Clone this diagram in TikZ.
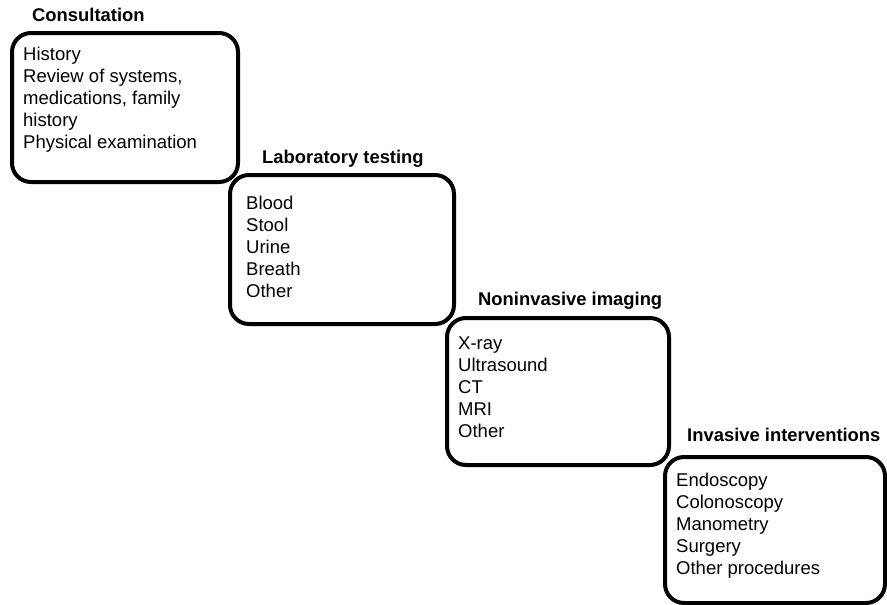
\documentclass[tikz,border=0pt]{standalone}
\usepackage{fontspec}
\setmainfont{Liberation Sans}
\usetikzlibrary{positioning}

\begin{document}
\begin{tikzpicture}[
    x=1pt, y=-1pt,
    stage/.style={draw, line width=4pt, rounded corners=19pt, fill=white,
        anchor=north west, inner sep=0pt},
    items/.style={align=left, inner sep=0pt, font=\fontsize{18.5}{22}\selectfont},
    title/.style={anchor=base west, inner sep=0pt, font=\fontsize{18.4}{22}\selectfont\bfseries}
]
\useasboundingbox (0,0) rectangle (887,605);

% Consultation
\node[stage, minimum width=226pt, minimum height=149pt] (consult) at (10,31) {};
\node[title] (consulttitle) at (32,21) {Consultation};
\node[items, below right=16pt and 13pt of consult.north west] (consultitems)
    {History\\Review of systems,\\medications, family\\history\\Physical examination};

% Laboratory testing
\node[stage, minimum width=224pt, minimum height=149pt] (lab) at (228,173) {};
\node[title] (labtitle) at (262,163) {Laboratory testing};
\node[items, below right=23pt and 18pt of lab.north west] (labitems)
    {Blood\\Stool\\Urine\\Breath\\Other};

% Noninvasive imaging
\node[stage, minimum width=222pt, minimum height=147pt] (imaging) at (445,316) {};
\node[title] (imagingtitle) at (478,305) {Noninvasive imaging};
\node[items, below right=21pt and 13pt of imaging.north west] (imagingitems)
    {X-ray\\Ultrasound\\CT\\MRI\\Other};

% Invasive interventions
\node[stage, minimum width=220pt, minimum height=146pt] (invasive) at (663,455) {};
\node[title] (invasivetitle) at (687,441) {Invasive interventions};
\node[items, below right=18pt and 13pt of invasive.north west] (invasiveitems)
    {Endoscopy\\Colonoscopy\\Manometry\\Surgery\\Other procedures};

\end{tikzpicture}
\end{document}
